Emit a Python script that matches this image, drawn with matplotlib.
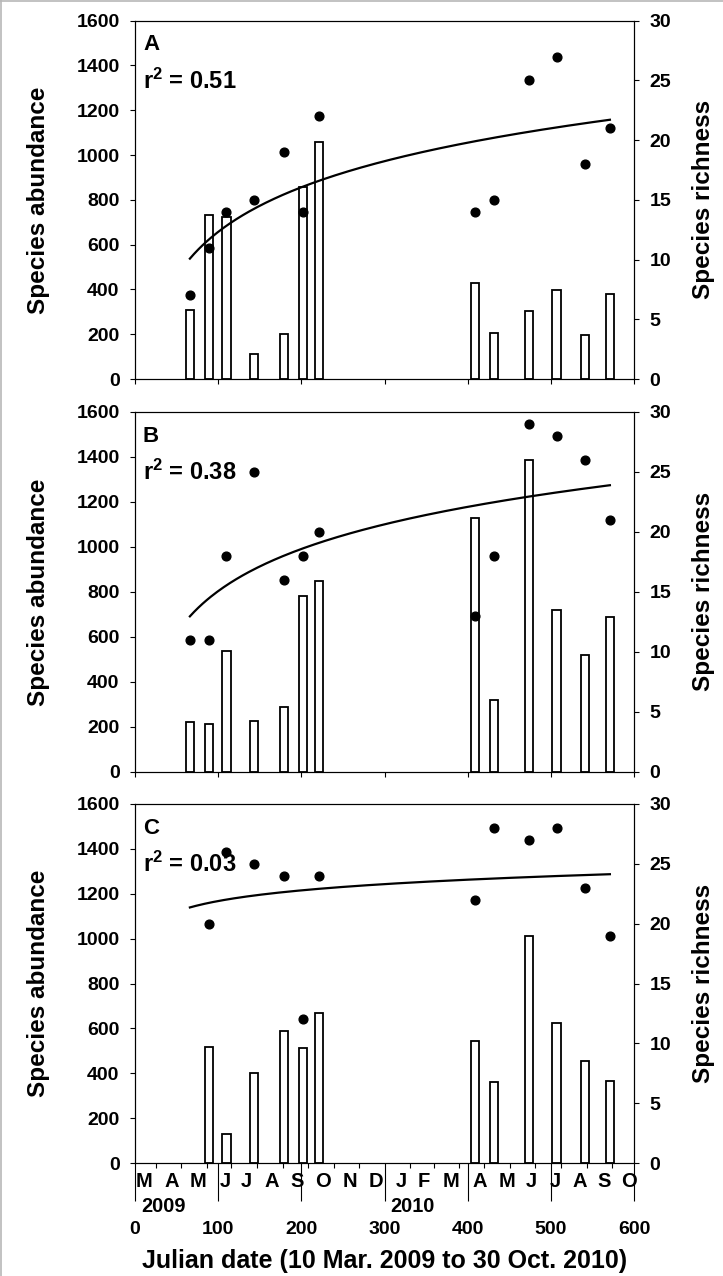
import numpy as np
import matplotlib
matplotlib.use("Agg")
import matplotlib.pyplot as plt
from matplotlib.transforms import blended_transform_factory
from matplotlib.lines import Line2D

plt.rcParams['font.family'] = ['Liberation Sans', 'DejaVu Sans']
plt.rcParams['font.weight'] = 'bold'
plt.rcParams['mathtext.fontset'] = 'custom'
plt.rcParams['mathtext.rm'] = 'Liberation Sans:bold'
plt.rcParams['mathtext.it'] = 'Liberation Sans:bold'
plt.rcParams['mathtext.bf'] = 'Liberation Sans:bold'

# ---- data (Julian day since 10 Mar 2009) ----
days = [66, 89, 110, 143, 179, 202, 221, 409, 432, 474, 507, 541, 571]

abund_A = [310, 732, 724, 110, 200, 858, 1059, 428, 205, 305, 397, 195, 379]
rich_A = [7, 11, 14, 15, 19, 14, 22, 14, 15, 25, 27, 18, 21]

abund_B = [220, 212, 537, 227, 286, 783, 850, 1127, 319, 1385, 719, 519, 687]
rich_B = [11, 11, 18, 25, 16, 18, 20, 13, 18, 29, 28, 26, 21]

abund_C = [np.nan, 518, 129, 400, 590, 514, 667, 545, 362, 1013, 625, 455, 365]
rich_C = [np.nan, 20, 26, 25, 24, 12, 24, 22, 28, 27, 28, 23, 19]

panel_letters = ['A', 'B', 'C']
r2_labels = ['0.51', '0.38', '0.03']

month_labels = ['M', 'A', 'M', 'J', 'J', 'A', 'S', 'O', 'N', 'D',
                'J', 'F', 'M', 'A', 'M', 'J', 'J', 'A', 'S', 'O']
month_label_days = [11, 44, 76, 108, 134, 165, 195, 226, 258, 290,
                    320, 347, 380, 415, 447, 477, 505, 535, 564, 594]
month_tick_days = [25, 55, 86, 116, 147, 178, 208, 239, 269, 300,
                   331, 359, 390, 420, 451, 481, 512, 543, 573]
year_labels = ['2009', '2010']
year_label_days = [34, 334]

xticks = [0, 100, 200, 300, 400, 500, 600]
yticks_left = [0, 200, 400, 600, 800, 1000, 1200, 1400, 1600]
yticks_right = [0, 5, 10, 15, 20, 25, 30]

# ---- figure ----
fig = plt.figure(figsize=(7.23, 12.76), dpi=100)
W_px, H_px = 723, 1276
left = 135 / W_px
width = 499 / W_px
panel_px = [(20.7, 379.0), (412.0, 771.7), (804.0, 1163.0)]

series = [(abund_A, rich_A), (abund_B, rich_B), (abund_C, rich_C)]
d = np.array(days, dtype=float)

fs_tick = 14
fs_label = 17.5

for i, ((top, bot), (ab, ri)) in enumerate(zip(panel_px, series)):
    ax = fig.add_axes([left, 1 - bot / H_px, width, (bot - top) / H_px])
    ab = np.array(ab, dtype=float)
    ri = np.array(ri, dtype=float)

    m = ~np.isnan(ab)
    ax.bar(d[m], ab[m], width=10, color='white', edgecolor='black',
           linewidth=1.3, zorder=2)
    ax.set_xlim(0, 600)
    ax.set_ylim(0, 1600)
    ax.set_yticks(yticks_left)
    ax.set_xticks(xticks)
    for s in ax.spines.values():
        s.set_linewidth(0.8)
    ax.tick_params(axis='y', direction='out', length=3.6, width=0.8,
                   labelsize=fs_tick, pad=7.5)
    ax.set_ylabel('Species abundance', fontsize=fs_label, fontweight='bold')
    ax.yaxis.set_label_coords((50 - 135) / 499, 0.5)

    ax2 = ax.twinx()
    ax2.set_ylim(0, 30)
    ax2.set_yticks(yticks_right)
    mr = ~np.isnan(ri)
    ax2.plot(d[mr], ri[mr], 'o', color='black', markersize=6.3, zorder=3)
    b, a = np.polyfit(np.log(d[mr]), ri[mr], 1)
    xs = np.linspace(d.min(), d.max(), 200)
    ax2.plot(xs, a + b * np.log(xs), color='black', linewidth=1.6)
    ax2.tick_params(axis='y', direction='out', length=3.6, width=0.8,
                    labelsize=fs_tick, pad=7.5)
    for s in ax2.spines.values():
        s.set_linewidth(0.8)
    ax2.set_ylabel('Species richness', fontsize=fs_label, fontweight='bold',
                   rotation=90)
    ax2.yaxis.set_label_coords((692 - 135) / 499, 0.5)

    ax.text(0.016, 0.962, panel_letters[i], transform=ax.transAxes,
            fontsize=16, fontweight='bold', ha='left', va='top')
    ax.text(0.016, 0.81, r'r$^{2}$ = ' + r2_labels[i], transform=ax.transAxes,
            fontsize=17, fontweight='bold', ha='left', va='baseline')

    if i < 2:
        ax.tick_params(axis='x', direction='out', length=3.6, width=0.8,
                       labelbottom=False)
    else:
        ax.set_xticks(month_tick_days, minor=True)
        ax.tick_params(axis='x', which='major', direction='out', length=27.4,
                       width=0.8, labelsize=fs_tick, pad=14)
        ax.tick_params(axis='x', which='minor', direction='out', length=3.6,
                       width=0.8)
        trans = blended_transform_factory(ax.transData, ax.transAxes)
        for lab, dd in zip(month_labels, month_label_days):
            ax.text(dd, -18.5 / 359, lab, transform=trans, ha='center',
                    va='center', fontsize=14.5, fontweight='bold', clip_on=False)
        for lab, dd in zip(year_labels, year_label_days):
            ax.text(dd, -43 / 359, lab, transform=trans, ha='center',
                    va='center', fontsize=14.3, fontweight='bold', clip_on=False)
        ax.set_xlabel('Julian date (10 Mar. 2009 to 30 Oct. 2010)',
                      fontsize=18, fontweight='bold')
        ax.xaxis.set_label_coords(0.5, -(1249 - 1163) / 359)
        ax.xaxis.label.set_va('top')

# faint border of the original image
fig.add_artist(Line2D([0.001, 0.001], [0, 1], color='#b8b8b8', lw=1.2,
                      transform=fig.transFigure))
fig.add_artist(Line2D([0, 1], [0.999, 0.999], color='#b8b8b8', lw=1.2,
                      transform=fig.transFigure))

fig.savefig('out.png', dpi=100)
